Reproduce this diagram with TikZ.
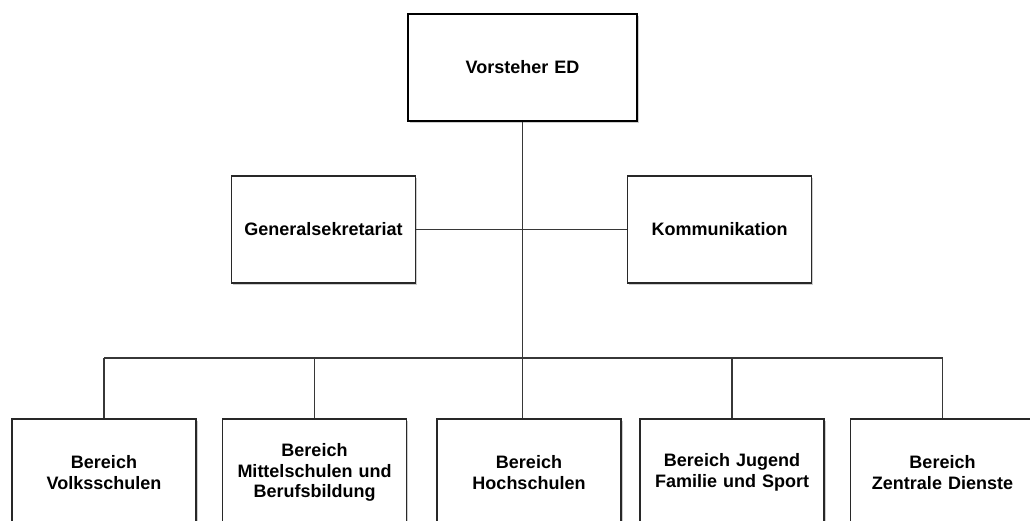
\documentclass[tikz,border=0pt]{standalone}
\usepackage{fontspec}
\setmainfont{Liberation Sans}
\usepackage{tikz}
\usetikzlibrary{positioning, shadows, calc}
\definecolor{orgline}{RGB}{55,55,55}
\definecolor{orgframe}{RGB}{40,40,40}
\definecolor{orgshadow}{RGB}{205,205,205}
\tikzset{
  unit/.style={rectangle, draw=orgframe, fill=white, line width=1.4pt,
    minimum width=184pt, minimum height=107pt, text width=180pt,
    align=center, inner sep=0pt,
    font=\fontsize{18}{20.5}\selectfont\bfseries,
    drop shadow={shadow xshift=1.6pt, shadow yshift=-1.6pt,
      fill=orgshadow, opacity=1}},
  head/.style={unit, minimum width=229pt, draw=black, line width=1.8pt},
  link/.style={line width=1.5pt, color=orgline}
}

\begin{document}
\begin{tikzpicture}[x=1pt, y=-1pt]
  \useasboundingbox (0,0) rectangle (1030,520);
  \clip (0,0) rectangle (1030,520);
  % Leitung und Stab
  \node[head] (ved) at (522.5,67.5) {Vorsteher ED};
  \node[unit] (gs) at (323.5,229.5) {Generalsekretariat};
  \node[unit] (kom) at (719.5,229.5) {Kommunikation};
  % Bereiche
  \node[unit] (vs) at (104,472.5) {Bereich\\Volksschulen};
  \node[unit] (ms) at (314.5,472.5) {Bereich\\Mittelschulen und\\Berufsbildung};
  \node[unit] (hs) at (529,472.5) {Bereich\\Hochschulen};
  \node[unit] (jf) at (732,472.5) {Bereich Jugend\\Familie und Sport};
  \node[unit] (zd) at (942.5,472.5) {Bereich\\Zentrale Dienste};
  % Linien
  \coordinate (bus) at (0,358);
  \draw[link] (ved.south) -- (ved.south |- hs.north);
  \draw[link] (gs.east) -- (kom.west);
  \draw[link] (vs.north |- bus) -- (zd.north |- bus);
  \foreach \b in {vs,ms,jf,zd}
    \draw[link] (\b.north) -- (\b.north |- bus);
\end{tikzpicture}
\end{document}
